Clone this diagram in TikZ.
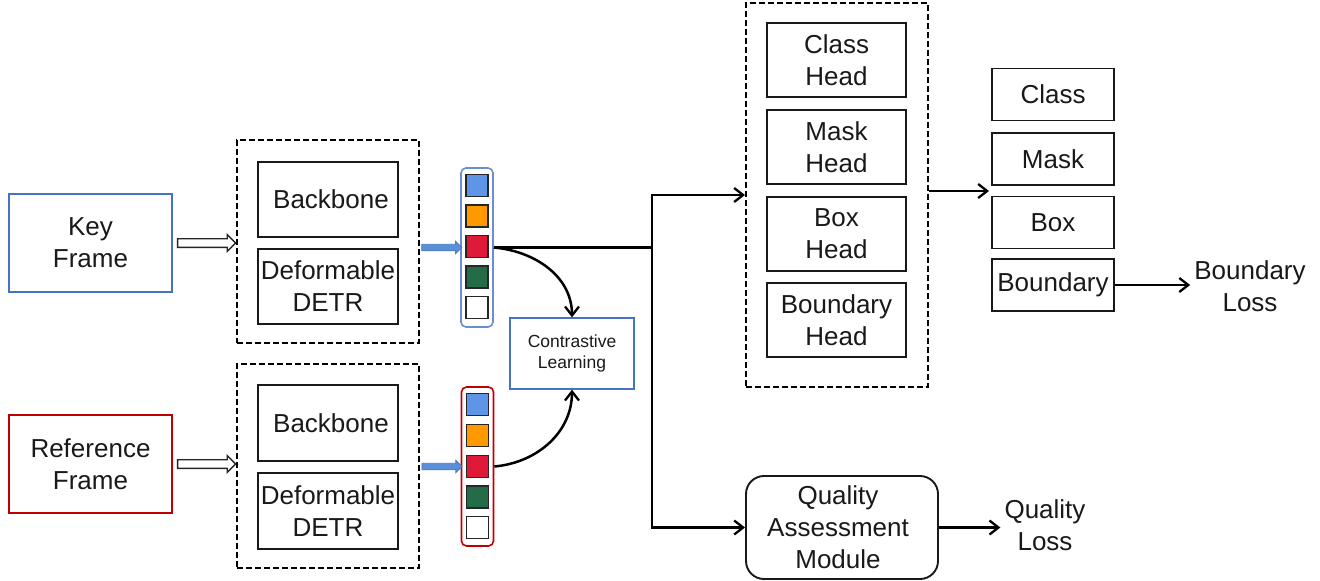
\documentclass[tikz,border=0pt]{standalone}
\usepackage{fontspec}
\setmainfont{Liberation Sans}
\usetikzlibrary{arrows.meta,shapes.arrows,positioning,calc}

\definecolor{frameblue}{HTML}{4472C4}
\definecolor{framered}{HTML}{C00000}
\definecolor{stackblue}{HTML}{6A8FD0}
\definecolor{qblue}{HTML}{5F95E6}
\definecolor{qorange}{HTML}{FF9900}
\definecolor{qred}{HTML}{DE1A38}
\definecolor{qgreen}{HTML}{246B48}
\definecolor{arrowblue}{HTML}{5B8FD8}
\definecolor{arrowedge}{HTML}{4A7BC0}

\tikzset{
  txt/.style={font=\fontsize{26}{32}\selectfont, align=center, text=black!90},
  framebox/.style={txt, draw, line width=1.6pt, minimum width=163pt, minimum height=98pt, inner sep=0pt},
  stagebox/.style={draw, dashed, dash pattern=on 6pt off 3pt, line width=2pt, inner sep=0pt},
  modbox/.style={txt, draw=black!90, line width=1.9pt, inner sep=0pt},
  outbox/.style={txt, draw=black!90, line width=1.9pt, minimum width=122pt, minimum height=52pt, inner sep=0pt},
  stackbox/.style={draw, line width=1.6pt, rounded corners=5pt, minimum width=32pt, minimum height=159pt, inner sep=0pt},
  cell/.style={draw=black!85, line width=1.6pt, minimum size=22pt, inner sep=0pt},
  hollowarrow/.style={single arrow, draw=black!85, fill=white, line width=1.4pt,
    inner sep=3.6pt, single arrow head extend=4pt, single arrow head indent=0pt,
    minimum height=58pt},
  bluearrow/.style={single arrow, draw=arrowedge, fill=arrowblue, line width=0.9pt,
    inner sep=2.8pt, single arrow head extend=2.8pt, single arrow head indent=0pt,
    minimum height=40pt},
  conn/.style={line width=2.5pt, -{Straight Barb[length=9pt,width=14pt,line width=2.3pt]}},
  link/.style={line width=2.5pt},
}

\begin{document}
\begin{tikzpicture}[x=1pt,y=-1pt]
\useasboundingbox (0,0) rectangle (1320,581);

% input frames
\node[framebox, draw=frameblue] (kf) at (90.5,243) {Key\\Frame};
\node[framebox, draw=framered] (rf) at (90.5,464) {Reference\\Frame};

% encoder stages
\node[stagebox, minimum width=182pt, minimum height=203pt] (d1) at (328,241.5) {};
\node[stagebox, minimum width=182pt, minimum height=204pt] (d2) at (328,466) {};
\node[modbox, minimum width=140pt, minimum height=75pt] (bb1) at (328,199.5) {\hspace{6pt}Backbone};
\node[modbox, minimum width=140pt, minimum height=75pt] (dd1) at (328,286.5) {Deformable\\DETR};
\node[modbox, minimum width=140pt, minimum height=76pt] (bb2) at (328,423) {\hspace{6pt}Backbone};
\node[modbox, minimum width=140pt, minimum height=76pt] (dd2) at (328,511) {Deformable\\DETR};

% frame -> stage arrows
\path (kf.east) -- (kf.east -| d1.west) node[midway, hollowarrow] (ka) {};
\path (rf.east) -- (rf.east -| d2.west) node[midway, hollowarrow] (ra) {};

% query stacks
\node[stackbox, draw=stackblue] (st1) at (477,247.5) {};
\node[stackbox, draw=framered] (st2) at (477.5,466.5) {};
\foreach \c/\y [count=\i] in {qblue/185.5, qorange/216, qred/246.5, qgreen/277, white/307.5}
  \node[cell, fill=\c] (a\i) at (477,\y) {};
\foreach \c/\y [count=\i] in {qblue/404.5, qorange/435.5, qred/466.5, qgreen/497, white/527.5}
  \node[cell, fill=\c] (b\i) at (477.5,\y) {};

% stage -> stack arrows
\path (d1.east |- st1.west) -- (st1.west) node[midway, bluearrow] (ba1) {};
\path (d2.east |- st2.west) -- (st2.west) node[midway, bluearrow] (ba2) {};

% contrastive learning
\node[draw=frameblue, line width=1.3pt, minimum width=124pt, minimum height=71pt, inner sep=0pt,
      align=center, text=black!90, font=\fontsize{17.5}{21}\selectfont] (cl) at (572,353.5) {Contrastive\\Learning};
\draw[conn] (st1.east) to[out=-5, in=90] (cl.north);
\draw[conn] (st2.east) to[out=5, in=-90] (cl.south);

% prediction heads
\node[stagebox, minimum width=182pt, minimum height=384pt] (hb) at (837,195) {};
\node[modbox, minimum width=139pt, minimum height=74pt] (ch) at (836.5,60) {Class\\Head};
\node[modbox, minimum width=139pt, minimum height=74pt] (mh) at (836.5,147) {Mask\\Head};
\node[modbox, minimum width=139pt, minimum height=74pt] (xh) at (836.5,234) {Box\\Head};
\node[modbox, minimum width=139pt, minimum height=74pt] (bh) at (836.5,320) {Boundary\\Head};

% quality branch
\node[modbox, rounded corners=18pt, minimum width=192pt, minimum height=103pt] (qam) at (842,527.5) {\hspace{-8pt}Quality\\\hspace{-8pt}Assessment\\\hspace{-8pt}Module};

% trunk from the key-frame queries
\coordinate (j1) at (652,247.5);
\draw[link] (st1.east) -- (j1);
\draw[conn] (j1) |- (hb.west);
\draw[conn] (j1) |- (qam.west);

% outputs
\node[outbox] (oc) at (1053,94.5) {Class};
\node[outbox] (om) at (1053,159) {Mask};
\node[outbox] (ox) at (1053,222.5) {Box};
\node[outbox] (ob) at (1053,285) {Boundary};
\coordinate (hout) at (989,191);
\draw[conn] (hb.east |- hout) -- (hout);

% losses
\node[txt, inner sep=4pt] (bl) at (1250,286) {Boundary\\Loss};
\node[txt, inner sep=4pt] (ql) at (1045,525) {Quality\\Loss};
\draw[conn] (ob.east) -- (ob.east -| bl.west);
\draw[conn] (qam.east) -- (qam.east -| ql.west);
\end{tikzpicture}
\end{document}
